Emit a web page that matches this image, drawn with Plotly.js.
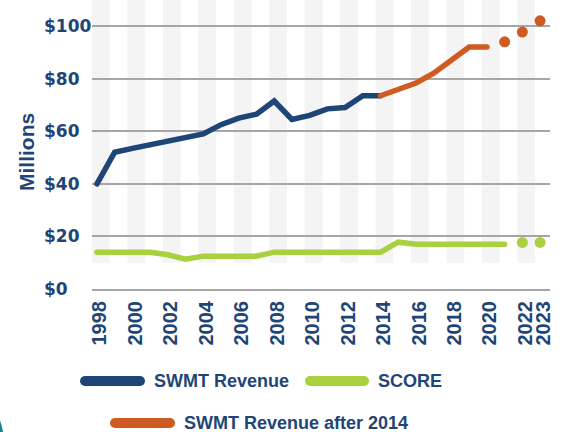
<!DOCTYPE html>
<html>
<head>
<meta charset="utf-8">
<script src="https://cdn.plot.ly/plotly-3.0.1.min.js"></script>
<style>html,body{margin:0;padding:0;background:#fff;}#chart{width:561px;height:432px;}</style>
</head>
<body>
<div id="chart"></div>
<script>
// ---- data (millions of dollars) ----
const revYears = [1998,1999,2000,2001,2002,2003,2004,2005,2006,2007,2008,2009,2010,2011,2012,2013,2014];
const swmtRevenue = [40,52,53.5,55,56.5,58,59,62.5,65,66.5,71.5,64.5,66,68.5,69,73.5,73.5];

const afterYears = [2014,2015,2016,2017,2018,2019,2020];
const swmtAfter = [73.5,75.7,78.3,82.1,87,92,92];
const projYears = [2021,2022,2023];
const swmtProjected = [94,97.7,102];

const scoreYears = [1998,1999,2000,2001,2002,2003,2004,2005,2006,2007,2008,2009,2010,2011,2012,2013,2014,2015,2016,2017,2018,2019,2020,2021];
const score = [14,14,14,14,13,11.3,12.5,12.5,12.5,12.5,14,14,14,14,14,14,14,17.8,17,17,17,17,17,17];
const scoreProjYears = [2022,2023];
const scoreProjected = [17.7,17.7];

const xTickVals = [1998,2000,2002,2004,2006,2008,2010,2012,2014,2016,2018,2020,2022,2023];
const xTickText = ['1998','2000','2002','2004','2006','2008','2010','2012','2014','2016','2018','2020','2022','2023'];
const yTickVals = [0,20,40,60,80,100];
const yTickText = ['$0','$20','$40','$60','$80','$100'];
const bandYears = [1998,2000,2002,2004,2006,2008,2010,2012,2014,2016,2018,2020,2022];

const legendNames = ['SWMT Revenue','SCORE','SWMT Revenue after 2014'];

// ---- style ----
const NAVY = '#1f4576', GREEN = '#a9d03f', ORANGE = '#cf5a22', GRID = '#a6a6a6', BAND = '#f4f4f4';
const ARIALB = 'Liberation Sans, Arial, sans-serif';

const traces = [
  {x: scoreYears, y: score, mode: 'lines', line: {color: GREEN, width: 5.5}, name: legendNames[1], showlegend: false},
  {x: scoreProjYears, y: scoreProjected, mode: 'markers', marker: {color: GREEN, size: 11}, showlegend: false, cliponaxis: false},
  {x: revYears, y: swmtRevenue, mode: 'lines', line: {color: NAVY, width: 5.5}, name: legendNames[0], showlegend: false},
  {x: afterYears, y: swmtAfter, mode: 'lines', line: {color: ORANGE, width: 5.5}, name: legendNames[2], showlegend: false},
  {x: projYears, y: swmtProjected, mode: 'markers', marker: {color: ORANGE, size: 11}, showlegend: false, cliponaxis: false}
];

const shapes = bandYears.map(yr => ({
  type: 'rect', xref: 'x', yref: 'y', x0: yr - 0.28, x1: yr + 0.72, y0: 10, y1: 115,
  fillcolor: BAND, line: {width: 0}, layer: 'below'
}));

// legend swatches (paper coords)
const legendItems = [
  {color: NAVY, x0: -0.0153, x1: 0.1048, y: -0.3183, tx: 0.1310, label: legendNames[0]},
  {color: GREEN, x0: 0.4760, x1: 0.5939, y: -0.3183, tx: 0.6200, label: legendNames[1]},
  {color: ORANGE, x0: 0.0502, x1: 0.1703, y: -0.4637, tx: 0.1965, label: legendNames[2]}
];
legendItems.forEach(it => {
  shapes.push({type: 'line', xref: 'paper', yref: 'paper', x0: it.x0, x1: it.x1, y0: it.y, y1: it.y,
    line: {color: it.color, width: 10}});
});
// decorative teal arc at bottom-left
shapes.push({type: 'circle', xref: 'paper', yref: 'paper', x0: -0.433, x1: -0.193, y0: -0.713, y1: -0.332,
  fillcolor: '#15838f', line: {width: 0}});

const annotations = [];
yTickVals.forEach((v, i) => {
  annotations.push({xref: 'paper', yref: 'y', x: -0.109, y: v, xanchor: 'left', yanchor: 'middle',
    text: yTickText[i], showarrow: false,
    font: {family: 'DejaVu Sans, sans-serif', size: 17, color: NAVY, weight: 700}});
});
annotations.push({xref: 'paper', yref: 'paper', x: -0.1441, y: 0.474, xanchor: 'center', yanchor: 'middle',
  text: 'Millions', textangle: -90, showarrow: false,
  font: {family: ARIALB, size: 21, color: NAVY, weight: 700}});
legendItems.forEach(it => {
  annotations.push({xref: 'paper', yref: 'paper', x: it.tx, y: it.y, xanchor: 'left', yanchor: 'middle',
    text: it.label, showarrow: false,
    font: {family: ARIALB, size: 18, color: NAVY, weight: 700}});
});

const layout = {
  width: 561, height: 432,
  margin: {l: 92, r: 11, t: 0, b: 143},
  paper_bgcolor: '#ffffff', plot_bgcolor: '#ffffff',
  showlegend: false,
  xaxis: {
    range: [1997.72, 2023.56], tickmode: 'array', tickvals: xTickVals, ticktext: xTickText,
    tickangle: -90, showgrid: false, zeroline: false, ticks: '',
    showline: true, linecolor: GRID, linewidth: 2,
    ticklabelshift: 3, ticklabelstandoff: 2,
    tickfont: {family: ARIALB, size: 20, color: NAVY, weight: 700}
  },
  yaxis: {
    range: [0, 109.9], tickmode: 'array', tickvals: yTickVals, showticklabels: false,
    showgrid: true, gridcolor: GRID, gridwidth: 2, zeroline: false, ticks: ''
  },
  shapes: shapes,
  annotations: annotations
};

Plotly.newPlot('chart', traces, layout, {staticPlot: true, displayModeBar: false}).then(() => {
  document.querySelectorAll('.scatterlayer .js-line').forEach(p => {
    p.style.strokeLinecap = 'round';
  });
  document.querySelectorAll('.shapelayer path').forEach(p => {
    const st = p.getAttribute('style') || '';
    if (st.indexOf('stroke-width: 10') >= 0) {
      p.style.strokeLinecap = 'round';
    }
  });
});
</script>
</body>
</html>
